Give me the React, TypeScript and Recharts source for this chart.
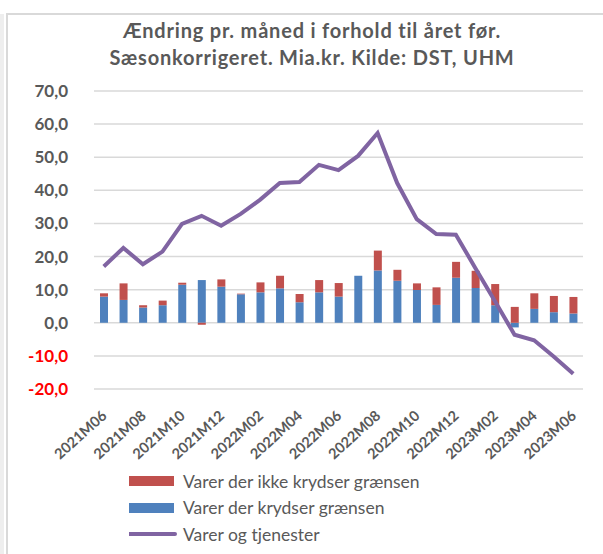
import React from 'react';
import {
  ComposedChart,
  Bar,
  Line,
  XAxis,
  YAxis,
  CartesianGrid,
  Legend,
} from 'recharts';

const months = [
  '2021M06', '2021M07', '2021M08', '2021M09', '2021M10', '2021M11', '2021M12',
  '2022M01', '2022M02', '2022M03', '2022M04', '2022M05', '2022M06', '2022M07',
  '2022M08', '2022M09', '2022M10', '2022M11', '2022M12', '2023M01', '2023M02',
  '2023M03', '2023M04', '2023M05', '2023M06',
];

// Varer der krydser grænsen (blå)
const krydser = [
  7.9, 6.9, 4.6, 5.3, 11.5, 12.9, 10.9, 8.6, 9.2, 10.4, 6.2, 9.2, 7.9,
  14.2, 15.8, 12.7, 9.9, 5.4, 13.6, 10.5, 5.3, -1.4, 4.2, 3.2, 2.8,
];

// Varer der ikke krydser grænsen (rød)
const ikkeKrydser = [
  1.0, 5.0, 0.7, 1.4, 0.6, -0.6, 2.2, 0.2, 3.0, 3.8, 2.5, 3.7, 4.1,
  0.0, 6.0, 3.3, 2.0, 5.3, 4.8, 5.2, 6.4, 4.8, 4.7, 4.9, 5.0,
];

// Varer og tjenester (linje)
const varerOgTjenester = [
  17.0, 22.6, 17.7, 21.5, 29.9, 32.3, 29.3, 32.9, 37.2, 42.2, 42.5, 47.7, 46.1,
  50.4, 57.3, 42.2, 31.3, 26.8, 26.6, 16.5, 6.5, -3.6, -5.3, -10.2, -15.4,
];

const yTicks = [-20, -10, 0, 10, 20, 30, 40, 50, 60, 70];

const titleLines = [
  'Ændring pr. måned i forhold til året før.',
  'Sæsonkorrigeret. Mia.kr. Kilde: DST, UHM',
];

const data = months.map((m, i) => ({
  month: m,
  krydser: krydser[i],
  ikke: ikkeKrydser[i],
  total: varerOgTjenester[i],
}));

const FONT = 'Lato, "Open Sans", sans-serif';
const GREY = '#595959';
const BLUE = '#4F81BD';
const RED = '#C0504D';
const PURPLE = '#8064A2';

const YTick = (props: any) => {
  const { x, y, payload } = props;
  const v = payload.value as number;
  return (
    <text
      x={x}
      y={y}
      dy={6}
      textAnchor="end"
      fontFamily={FONT}
      fontWeight={700}
      fontSize={17}
      fill={v < 0 ? '#FF0000' : GREY}
    >
      {v.toFixed(1).replace('.', ',')}
    </text>
  );
};

const XTick = (props: any) => {
  const { x, y, payload } = props;
  return (
    <g transform={`translate(${x + 4},${y + 26})`}>
      <text
        transform="rotate(-42)"
        textAnchor="end"
        fontFamily={FONT}
        fontWeight={700}
        fontSize={14.5}
        fill={GREY}
      >
        {payload.value}
      </text>
    </g>
  );
};

const LegendBox = (props: any) => {
  const items = props.payload || [];
  const order = ['ikke', 'krydser', 'total'];
  const sorted = order
    .map((k) => items.find((it: any) => it.dataKey === k))
    .filter(Boolean);
  return (
    <div style={{ fontFamily: FONT, fontSize: 17.5, color: GREY }}>
      {sorted.map((it: any) => (
        <div
          key={it.dataKey}
          style={{ display: 'flex', alignItems: 'center', height: 26.5 }}
        >
          <svg width={54} height={12} style={{ display: 'block' }}>
            {it.type === 'line' ? (
              <line x1={0} y1={6} x2={46} y2={6} stroke={it.color} strokeWidth={4} strokeLinecap="round" />
            ) : (
              <rect x={0} y={1} width={45} height={10} fill={it.color} />
            )}
          </svg>
          <span>{it.value}</span>
        </div>
      ))}
    </div>
  );
};

const App: React.FC = () => {
  return (
    <div
      style={{
        position: 'absolute',
        left: 0,
        top: 0,
        width: 603,
        height: 554,
        background: '#fff',
        overflow: 'hidden',
      }}
    >
      <div style={{ position: 'absolute', left: 0, top: 14, width: 4, bottom: 0, background: '#eeeeee' }} />
      <div
        style={{
          position: 'absolute',
          left: 6,
          top: 13,
          right: -4,
          bottom: -4,
          borderTop: '2px solid #d9d9d9',
          borderLeft: '2px solid #d9d9d9',
        }}
      />
      <div
        style={{
          position: 'absolute',
          left: 12,
          width: 600,
          top: 17,
          textAlign: 'center',
          fontFamily: FONT,
          fontWeight: 700,
          fontSize: 20,
          letterSpacing: 0.8,
          lineHeight: '26.5px',
          color: GREY,
        }}
      >
        {titleLines.map((t) => (
          <div key={t}>{t}</div>
        ))}
      </div>
      <ComposedChart
        width={603}
        height={554}
        data={data}
        stackOffset="sign"
        margin={{ top: 91, right: 20, bottom: 105, left: 0 }}
        barSize={8}
        style={{ position: 'absolute', left: 0, top: 0 }}
      >
        <CartesianGrid vertical={false} stroke="#d9d9d9" strokeWidth={1.5} />
        <XAxis
          dataKey="month"
          interval={1}
          axisLine={false}
          tickLine={false}
          tickSize={0}
          height={60}
          tick={<XTick />}
        />
        <YAxis
          domain={[-20, 70]}
          ticks={yTicks}
          width={94}
          axisLine={false}
          tickLine={false}
          tickSize={0}
          tickMargin={26}
          tick={<YTick />}
        />
        <Legend
          content={<LegendBox />}
          verticalAlign="bottom"
          wrapperStyle={{ position: 'absolute', left: 129, top: 468, width: 'auto', height: 0, overflow: 'visible' }}
        />
        <Bar dataKey="krydser" stackId="a" fill={BLUE} name="Varer der krydser grænsen" isAnimationActive={false} />
        <Bar dataKey="ikke" stackId="a" fill={RED} name="Varer der ikke krydser grænsen" isAnimationActive={false} />
        <Line
          dataKey="total"
          type="linear"
          stroke={PURPLE}
          strokeWidth={4}
          dot={false}
          activeDot={false}
          name="Varer og tjenester"
          isAnimationActive={false}
        />
      </ComposedChart>
    </div>
  );
};

export default App;
